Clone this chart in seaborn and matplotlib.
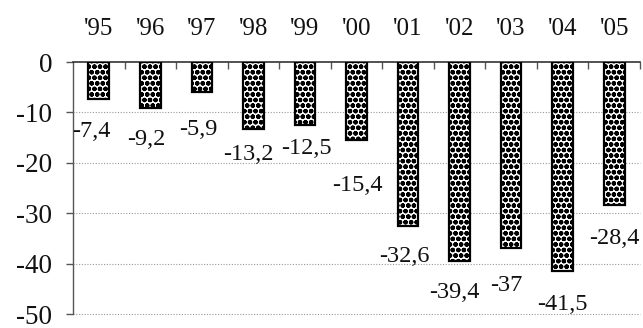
import matplotlib
matplotlib.use("Agg")
import matplotlib.pyplot as plt
import seaborn as sns
import pandas as pd

years = ["'95", "'96", "'97", "'98", "'99", "'00", "'01", "'02", "'03", "'04", "'05"]
values = [-7.4, -9.2, -5.9, -13.2, -12.5, -15.4, -32.6, -39.4, -37, -41.5, -28.4]
labels = ["-7,4", "-9,2", "-5,9", "-13,2", "-12,5", "-15,4", "-32,6", "-39,4", "-37", "-41,5", "-28,4"]
yticks = [0, -10, -20, -30, -40, -50]

# label offsets in pixels (dx, dy below bar end) – layout only
label_dx = [-7, -4, -4, -5, 1, 1, -4, -5, -5, 0, 0]
label_dy = [32, 31, 38, 26, 24, 46, 30, 32, 37, 33, 33]

sns.set_theme(style="white")
plt.rcParams["font.family"] = ["Liberation Serif", "DejaVu Serif"]
plt.rcParams["hatch.linewidth"] = 1.6

df = pd.DataFrame({"year": years, "value": values})

fig = plt.figure(figsize=(6.43, 3.28), dpi=100)
ax = fig.add_axes([73 / 643, 1 - 314 / 328, 567 / 643, 252 / 328])

sns.barplot(data=df, x="year", y="value", order=years, color="white",
            width=0.4, edgecolor="black", linewidth=1.6, hatch="ooo",
            saturation=1, ax=ax, zorder=3)

ax.set_ylim(-50, 0)
ax.set_xlim(-0.5, len(years) - 0.5)
ax.set_yticks(yticks)
ax.set_yticklabels([str(t) for t in yticks], fontsize=19.5, color="#111111")
ax.set_xlabel("")
ax.set_ylabel("")

# x labels on top
ax.xaxis.tick_top()
ax.set_xticks(range(len(years)))
ax.set_xticklabels(years, fontsize=18, color="#111111")
ax.tick_params(axis="x", which="major", length=0, pad=16)
ax.set_xticks([i + 0.5 for i in range(len(years))], minor=True)
ax.tick_params(axis="x", which="minor", top=True, direction="in", length=5, width=1, color="#555555")
ax.tick_params(axis="y", which="major", left=True, direction="out", length=5, width=1, color="#555555", pad=10)

for s in ["right", "bottom"]:
    ax.spines[s].set_visible(False)
ax.spines["top"].set_color("#333333")
ax.spines["top"].set_linewidth(1.2)
ax.spines["left"].set_color("#555555")
ax.spines["left"].set_linewidth(1.0)

for t in yticks[1:]:
    ax.axhline(t, color="#999999", linestyle=(0, (1, 1.5)), linewidth=0.8, zorder=1, clip_on=False)

for i, (v, lab) in enumerate(zip(values, labels)):
    ax.annotate(lab, xy=(i, v), xytext=(label_dx[i] * 0.72, -label_dy[i] * 0.72),
                textcoords="offset points", ha="center", va="center",
                fontsize=17.5, color="#111111", annotation_clip=False)

fig.savefig("out.png", dpi=100)
